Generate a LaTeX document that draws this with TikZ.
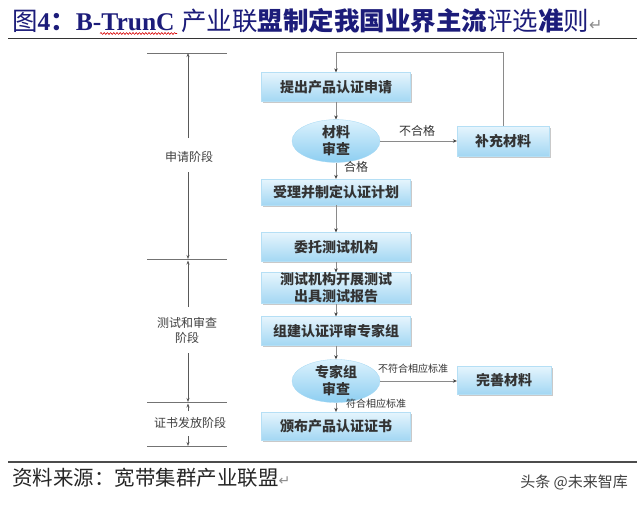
\documentclass[tikz,border=0pt]{standalone}
\usepackage{fontspec}
\setmainfont{Noto Sans CJK SC}
\newfontfamily\serif{Liberation Serif}
\newfontfamily\dejavu{DejaVu Sans}
\usetikzlibrary{shapes.geometric,shadows,arrows.meta,decorations.pathmorphing}
\definecolor{navy}{HTML}{1C1C7A}
\definecolor{boxtop}{HTML}{E6F5FD}
\definecolor{boxbot}{HTML}{A3D7F3}
\definecolor{elltop}{HTML}{DCF2FD}
\definecolor{ellbot}{HTML}{8DCEF1}
\definecolor{txt}{HTML}{333333}
\definecolor{conn}{HTML}{8A8A8A}
\definecolor{tipc}{HTML}{404040}
\tikzset{
  flowbox/.style={rectangle, minimum width=149pt, minimum height=29pt, inner sep=0pt,
    top color=boxtop, bottom color=boxbot, draw=boxbot!80!white, line width=0.3pt,
    drop shadow={shadow xshift=1.6pt, shadow yshift=-1.6pt, opacity=0.35, fill=black!60},
    font=\fontsize{14}{17}\selectfont\bfseries, text=txt, align=center},
  sidebox/.style={flowbox, minimum width=92pt},
  checkell/.style={ellipse, minimum width=88pt, minimum height=33pt, inner sep=0pt,
    top color=elltop, bottom color=ellbot, draw=ellbot!80!white, line width=0.3pt,
    font=\fontsize{14}{17}\selectfont\bfseries, text=txt, align=center},
  arr/.style={draw=conn, line width=0.8pt, -{Stealth[length=4pt,width=3.5pt,color=tipc,fill=tipc]}},
  edgelbl/.style={font=\fontsize{12}{14}\selectfont, text=txt, inner sep=1pt},
  smalllbl/.style={font=\fontsize{10}{12}\selectfont, text=txt, inner sep=1pt},
  phase/.style={font=\fontsize{12}{15}\selectfont, text=black!75, align=center, inner sep=0pt},
  tl/.style={draw=black!65, line width=0.7pt},
  tlarr/.style={tl, -{Stealth[length=4pt,width=3pt]}},
}
\begin{document}
\begin{tikzpicture}[x=1pt,y=-1pt]
\useasboundingbox (0,0) rectangle (640,504);
\fill[white] (0,0) rectangle (640,504);

% title
\node[anchor=base west, inner sep=0pt, text=navy, font=\fontsize{25.5}{28}\selectfont] (title) at (12,30)
 {图{\serif\bfseries 4}{\bfseries ：}{\serif\bfseries B-TrunC }产业联{\bfseries 盟制定我国业界主流}评选{\bfseries 准}则{\dejavu\color{black!45}\fontsize{16}{18}\selectfont ↵}};
\coordinate (wavyA) at (100,33.5);
\coordinate (wavyB) at (177,33.5);
\draw[red!85!black, line width=0.6pt, decorate, decoration={snake, segment length=3.2pt, amplitude=0.9pt}] (wavyA) -- (wavyB);
\coordinate (hl1) at (8,38.5);
\coordinate (hr1) at (637,38.5);
\draw[black!80, line width=1.2pt] (hl1) -- (hr1);

% flow
\node[flowbox] (b1) at (336,87) {提出产品认证申请};
\node[checkell] (e1) at (336,141) {材料\\审查};
\node[sidebox, minimum height=30pt] (s1) at (503,141) {补充材料};
\node[flowbox, minimum height=26pt] (b2) at (336,192) {受理并制定认证计划};
\node[flowbox] (b3) at (336,247) {委托测试机构};
\node[flowbox, minimum height=31pt] (b4) at (336,288) {测试机构开展测试\\出具测试报告};
\node[flowbox] (b5) at (336,331) {组建认证评审专家组};
\node[checkell, minimum height=34pt] (e2) at (336,381) {专家组\\审查};
\node[sidebox, minimum width=94pt, minimum height=28pt] (s2) at (504,380) {完善材料};
\node[flowbox, minimum height=28pt] (b6) at (336,426) {颁布产品认证证书};

\coordinate (fbtop) at (336,52);
\draw[arr] (b1) -- (e1);
\draw[arr] (e1) -- (s1);
\draw[arr] (s1.north) |- (fbtop) -- (b1.north);
\draw[arr] (e1) -- (b2);
\draw[arr] (b2) -- (b3);
\draw[arr] (b3) -- (b4);
\draw[arr] (b4) -- (b5);
\draw[arr] (b5) -- (e2);
\draw[arr] (e2.east) -- (s2.west |- e2.east);
\draw[arr] (e2) -- (b6);

\node[edgelbl] (l1) at (417,131) {不合格};
\node[edgelbl] (l2) at (356,167) {合格};
\node[smalllbl] (l3) at (413,369) {不符合相应标准};
\node[smalllbl] (l4) at (376,404) {符合相应标准};

% timeline
\foreach \n/\yy in {t1/53, t2/259, t3/402, t4/446}{
  \coordinate (\n L) at (147,\yy);
  \coordinate (\n R) at (227,\yy);
  \coordinate (\n) at (188,\yy);
  \draw[black!55, line width=0.7pt] (\n L) -- (\n R);
}
\node[phase] (p1) at (189,157) {申请阶段};
\node[phase] (p2) at (187,330) {测试和审查\\阶段};
\node[phase] (p3) at (190,423) {证书发放阶段};
\coordinate (p1a) at (188,138);
\coordinate (p1b) at (188,172);
\coordinate (p2a) at (188,307);
\coordinate (p2b) at (188,353);
\coordinate (p3a) at (188,411);
\coordinate (p3b) at (188,436);
\draw[tlarr] (p1a) -- (t1);
\draw[tlarr] (p1b) -- (t2);
\draw[tlarr] (p2a) -- ([yshift=-1.5pt]t2);
\draw[tlarr] (p2b) -- (t3);
\draw[tlarr] (p3a) -- ([yshift=-1.5pt]t3);
\draw[tlarr] (p3b) -- (t4);

% footer
\coordinate (hl2) at (8,462);
\coordinate (hr2) at (637,462);
\draw[black!70, line width=1.8pt] (hl2) -- (hr2);
\node[anchor=base west, inner sep=0pt, text=black!85, font=\fontsize{20.5}{24}\selectfont] (src) at (12,485)
 {资料来源：宽带集群产业联盟{\dejavu\color{black!45}\fontsize{14}{16}\selectfont ↵}};
\node[anchor=base east, inner sep=0pt, text=black!75, font=\fontsize{15}{18}\selectfont] (wm) at (628,487)
 {头条 @未来智库};
\end{tikzpicture}
\end{document}
